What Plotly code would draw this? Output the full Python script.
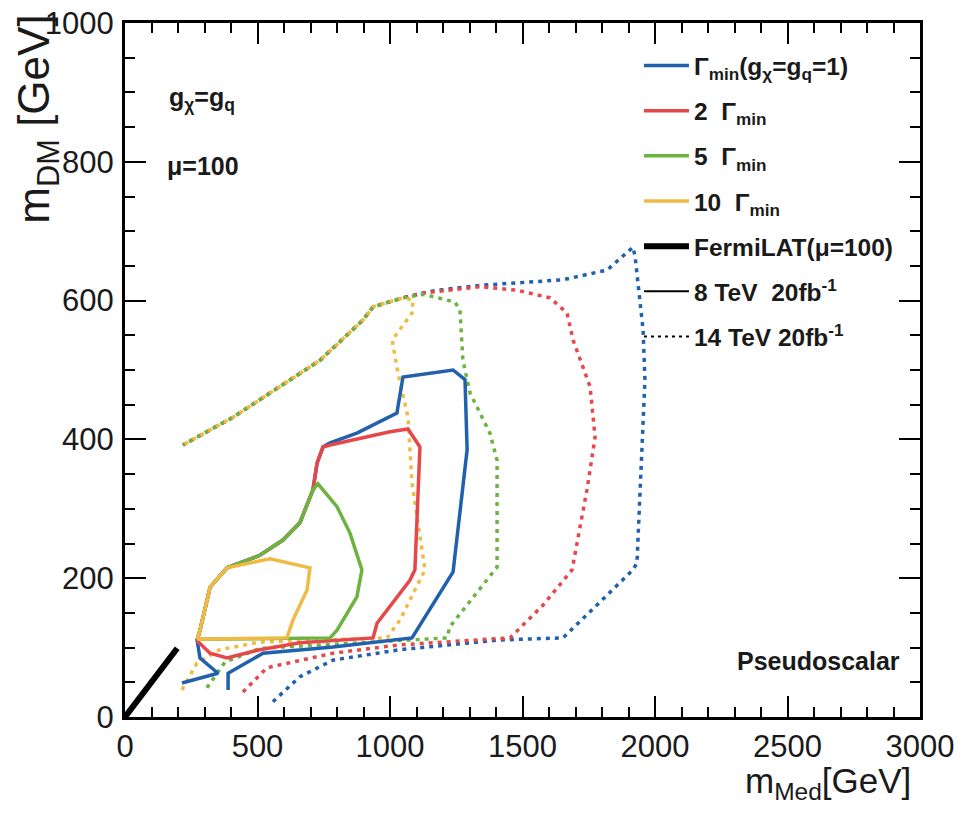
import plotly.graph_objects as go

# ---------------- data (GeV) ----------------
# 8 TeV 20 fb-1 contours (solid)
G1_X = [215, 351, 283, 272, 283, 321, 385, 509, 596, 660, 709, 725, 747, 774, 875, 1000, 1026, 1049, 1238, 1283, 1291, 1238, 1083, 785, 521, 389, 389]
G1_Y = [49, 63, 85, 111, 125, 187, 215, 233, 255, 280, 327, 366, 389, 395, 409, 432, 438, 490, 500, 486, 385, 209, 114, 101, 92, 63, 39]

G2_X = [272, 283, 321, 385, 509, 596, 660, 709, 725, 747, 774, 1000, 1068, 1113, 1094, 1075, 951, 936, 660, 509, 385, 321, 272]
G2_Y = [110, 125, 187, 215, 233, 255, 280, 327, 366, 389, 392, 411, 415, 389, 212, 197, 135, 114, 107, 97, 85, 92, 110]

G5_X = [272, 283, 321, 385, 509, 596, 660, 709, 728, 800, 849, 894, 875, 800, 774, 272]
G5_Y = [112, 125, 187, 215, 233, 255, 280, 327, 336, 303, 265, 212, 173, 125, 114, 112]

G10_X = [272, 283, 321, 385, 547, 698, 687, 634, 611, 272]
G10_Y = [112, 125, 187, 215, 228, 215, 183, 140, 114, 112]

# 14 TeV 20 fb-1 contours (dotted); all share the upper-left envelope
ENV_X = [1049, 936, 898, 736, 547, 408, 219]
ENV_Y = [604, 591, 572, 514, 467, 432, 392]

D1_X = [558, 660, 785, 1038, 1415, 1653, 1917, 1932, 1962, 1955, 1925, 1917, 1819, 1653, 1340, 1162, 1125]
D1_Y = [22, 58, 82, 97, 111, 114, 212, 222, 486, 558, 663, 677, 644, 630, 622, 614, 611]

D2_X = [445, 536, 785, 1038, 1453, 1577, 1687, 1743, 1774, 1755, 1691, 1668, 1604, 1479, 1340, 1162, 1125]
D2_Y = [36, 71, 92, 104, 114, 161, 212, 327, 403, 476, 543, 582, 604, 615, 620, 612, 611]

D5_X = [309, 377, 509, 1215, 1226, 1404, 1404, 1377, 1302, 1275, 1264, 1245, 1125]
D5_Y = [42, 79, 99, 114, 130, 216, 370, 409, 467, 514, 586, 598, 609]

D10_X = [215, 272, 358, 509, 989, 1038, 1132, 1083, 1068, 1030, 1008, 1083, 1087]
D10_Y = [39, 78, 97, 108, 114, 140, 212, 337, 432, 496, 543, 582, 601]

# FermiLAT (mu = 100)
FERMI_X = [0, 197]
FERMI_Y = [0, 99]

X_TICKS = [0, 500, 1000, 1500, 2000, 2500, 3000]
Y_TICKS = [0, 200, 400, 600, 800, 1000]

LABELS = [
    "<b>Γ<sub>min</sub>(g<sub>χ</sub>=g<sub>q</sub>=1)</b>",
    "<b>2  Γ<sub>min</sub></b>",
    "<b>5  Γ<sub>min</sub></b>",
    "<b>10  Γ<sub>min</sub></b>",
    "<b>FermiLAT(μ=100)</b>",
    "<b>8 TeV  20fb<sup>-1</sup></b>",
    "<b>14 TeV 20fb<sup>-1</sup></b>",
]

BLUE = "#2160ad"
RED = "#e6484a"
GREEN = "#6cb33f"
YELLOW = "#efbb45"
FONT = "Liberation Sans, Arial, Helvetica, sans-serif"
DOT = "4px,5px"

fig = go.Figure()

# dotted 14 TeV curves
for xs, ys, col in [(D1_X, D1_Y, BLUE), (D2_X, D2_Y, RED), (D5_X, D5_Y, GREEN), (D10_X, D10_Y, YELLOW)]:
    fig.add_trace(go.Scatter(x=xs + ENV_X, y=ys + ENV_Y, mode="lines",
                             line=dict(color=col, width=3.5, dash=DOT),
                             showlegend=False, hoverinfo="skip"))

# solid 8 TeV curves (carry the legend entries)
for i, (xs, ys, col) in enumerate([(G1_X, G1_Y, BLUE), (G2_X, G2_Y, RED), (G5_X, G5_Y, GREEN), (G10_X, G10_Y, YELLOW)]):
    fig.add_trace(go.Scatter(x=xs, y=ys, mode="lines", name=LABELS[i],
                             legendgroup=f"g{i}",
                             line=dict(color=col, width=3.5)))

fig.add_trace(go.Scatter(x=FERMI_X, y=FERMI_Y, mode="lines", name=LABELS[4],
                         legendgroup="g4", line=dict(color="black", width=6)))
fig.add_trace(go.Scatter(x=[None], y=[None], mode="lines", name=LABELS[5],
                         legendgroup="g5", line=dict(color="black", width=2)))
fig.add_trace(go.Scatter(x=[None], y=[None], mode="lines", name=LABELS[6],
                         legendgroup="g6", line=dict(color="black", width=2, dash="3px,4px")))

axis_common = dict(
    showline=True, linecolor="black", linewidth=3, mirror="allticks",
    ticks="inside", ticklen=21, tickwidth=2, tickcolor="black",
    showgrid=False, zeroline=False, ticklabeloverflow="allow", automargin=False,
    tickfont=dict(family=FONT, size=31, color="#1a1a1a"),
)

fig.update_xaxes(range=[0, 3000], tickvals=X_TICKS,
                 minor=dict(dtick=100, ticks="inside", ticklen=10, tickwidth=2, tickcolor="black"),
                 ticklabelstandoff=0, **axis_common)
fig.update_yaxes(range=[0, 1000], tickvals=Y_TICKS,
                 minor=dict(dtick=50, ticks="inside", ticklen=10, tickwidth=2, tickcolor="black"),
                 ticklabelstandoff=2, **axis_common)

ann_font = dict(family=FONT, size=25, color="#1a1a1a")
fig.add_annotation(text="<b>g<sub>χ</sub>=g<sub>q</sub></b>", xref="paper", yref="paper",
                   x=0.053, y=0.891, xanchor="left", yanchor="middle", showarrow=False, font=ann_font)
fig.add_annotation(text="<b>μ=100</b>", xref="paper", yref="paper",
                   x=0.050, y=0.794, xanchor="left", yanchor="middle", showarrow=False, font=ann_font)
fig.add_annotation(text="<b>Pseudoscalar</b>", xref="paper", yref="paper",
                   x=0.977, y=0.081, xanchor="right", yanchor="middle", showarrow=False, font=ann_font)
fig.add_annotation(text="m<sub>DM</sub> [GeV]", xref="paper", yref="paper", textangle=-90,
                   x=-0.110, y=1.015, xanchor="center", yanchor="top", showarrow=False,
                   font=dict(family=FONT, size=44, color="#1a1a1a"))
fig.add_annotation(text="m<sub>Med</sub>[GeV]", xref="paper", yref="paper",
                   x=0.991, y=-0.095, xanchor="right", yanchor="middle", showarrow=False,
                   font=dict(family=FONT, size=35, color="#1a1a1a"))

fig.update_layout(
    width=968, height=820,
    margin=dict(l=117, r=56, t=15, b=111, autoexpand=False),
    paper_bgcolor="white", plot_bgcolor="white",
    showlegend=True,
    legend=dict(x=0.6465, y=0.971, xanchor="left", yanchor="top",
                bgcolor="rgba(0,0,0,0)", borderwidth=0,
                tracegroupgap=10.3, itemwidth=45,
                font=dict(family=FONT, size=24.5, color="#1a1a1a")),
)

fig.write_html("out.html")
